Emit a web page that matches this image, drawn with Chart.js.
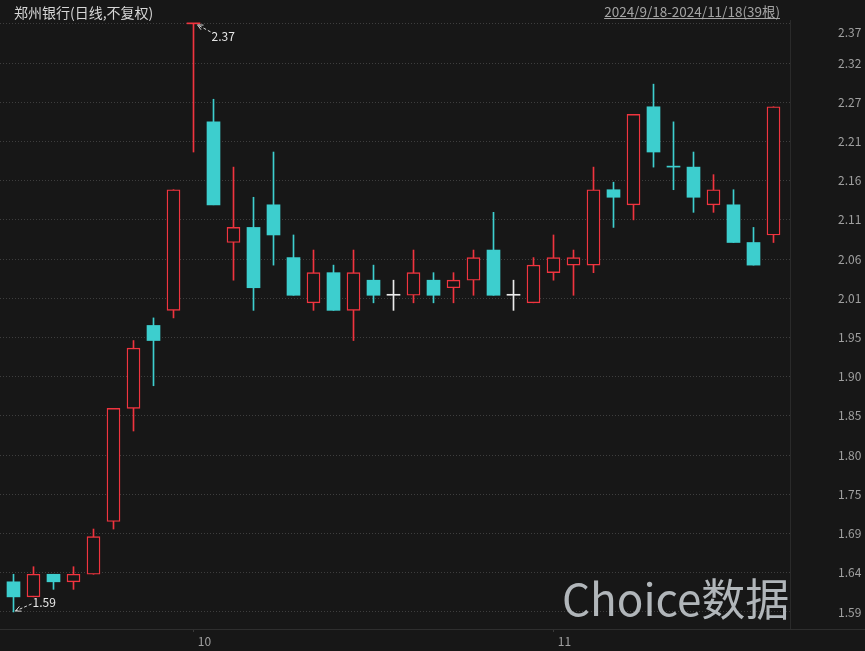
<!DOCTYPE html>
<html>
<head>
<meta charset="utf-8">
<script src="https://cdn.jsdelivr.net/npm/chart.js@4.4.0/dist/chart.umd.min.js"></script>
<style>
  html, body { margin: 0; padding: 0; background: #171717; }
  #wrap { width: 865px; height: 651px; }
</style>
</head>
<body>
<div id="wrap"><canvas id="kline" width="865" height="651"></canvas></div>
<script>
// 郑州银行 daily candles, 2024/9/18 - 2024/11/18
const dates = ['2024/9/18','2024/9/19','2024/9/20','2024/9/23','2024/9/24','2024/9/25','2024/9/26','2024/9/27','2024/9/30',
  '2024/10/8','2024/10/9','2024/10/10','2024/10/11','2024/10/14','2024/10/15','2024/10/16','2024/10/17','2024/10/18',
  '2024/10/21','2024/10/22','2024/10/23','2024/10/24','2024/10/25','2024/10/28','2024/10/29','2024/10/30','2024/10/31',
  '2024/11/1','2024/11/4','2024/11/5','2024/11/6','2024/11/7','2024/11/8','2024/11/11','2024/11/12','2024/11/13',
  '2024/11/14','2024/11/15','2024/11/18'];
const opens  = [1.63,1.61,1.64,1.63,1.64,1.71,1.86,1.97,1.99, 2.37,2.24,2.08,2.10,2.13,2.06,2.00,2.04,1.99, 2.03,2.01,2.01,2.03,2.02,2.03,2.07,2.01,2.00, 2.04,2.05,2.05,2.15,2.13,2.26,2.18,2.18,2.13, 2.13,2.08,2.09];
const highs  = [1.64,1.65,1.64,1.65,1.70,1.86,1.95,1.98,2.15, 2.37,2.27,2.18,2.14,2.20,2.09,2.07,2.05,2.07, 2.05,2.03,2.07,2.04,2.04,2.07,2.12,2.03,2.06, 2.09,2.07,2.18,2.16,2.25,2.29,2.24,2.20,2.17, 2.15,2.10,2.26];
const lows   = [1.59,1.61,1.62,1.62,1.64,1.70,1.83,1.89,1.98, 2.20,2.13,2.03,1.99,2.05,2.01,1.99,1.99,1.95, 2.00,1.99,2.00,2.00,2.00,2.01,2.01,1.99,2.00, 2.03,2.01,2.04,2.10,2.11,2.18,2.15,2.12,2.12, 2.08,2.05,2.08];
const closes = [1.61,1.64,1.63,1.64,1.69,1.86,1.94,1.95,2.15, 2.37,2.13,2.10,2.02,2.09,2.01,2.04,1.99,2.04, 2.01,2.01,2.04,2.01,2.03,2.06,2.01,2.01,2.05, 2.06,2.06,2.15,2.14,2.25,2.20,2.18,2.14,2.15, 2.08,2.05,2.26];
const yTicks = [1.590,1.642,1.694,1.746,1.798,1.850,1.902,1.954,2.006,2.058,2.110,2.162,2.214,2.266,2.318,2.370];
const yTickLabels = ['1.59','1.64','1.69','1.75','1.80','1.85','1.90','1.95','2.01','2.06','2.11','2.16','2.21','2.27','2.32','2.37'];
const title = '郑州银行(日线,不复权)';
const rangeText = '2024/9/18-2024/11/18(39根)';
const watermark = 'Choice数据';

const BG = '#171717', UP = '#f0343f', DOWN = '#3dcece', FLAT = '#ececec';
const FONT = '"Noto Sans CJK SC", "Noto Sans", sans-serif';

function candleColor(i) {
  if (closes[i] > opens[i]) return UP;
  if (closes[i] < opens[i]) return DOWN;
  if (i === 0) return FLAT;
  if (closes[i] > closes[i - 1]) return UP;
  if (closes[i] < closes[i - 1]) return DOWN;
  return FLAT;
}
const colors = dates.map((d, i) => candleColor(i));
const hollow = dates.map((d, i) => closes[i] > opens[i]);

// first trading day of each new month gets an x label
const monthStarts = [];
dates.forEach((d, i) => {
  if (i > 0 && d.split('/')[1] !== dates[i - 1].split('/')[1]) monthStarts.push(i);
});

function arrow(ctx, tx, ty, fx, fy) {
  ctx.save();
  ctx.strokeStyle = '#d8d8d8';
  ctx.lineWidth = 1;
  ctx.setLineDash([3, 2]);
  ctx.beginPath(); ctx.moveTo(fx, fy); ctx.lineTo(tx, ty); ctx.stroke();
  ctx.setLineDash([]);
  const a = Math.atan2(fy - ty, fx - tx);
  ctx.beginPath();
  ctx.moveTo(tx + 6 * Math.cos(a + 0.45), ty + 6 * Math.sin(a + 0.45));
  ctx.lineTo(tx, ty);
  ctx.lineTo(tx + 6 * Math.cos(a - 0.45), ty + 6 * Math.sin(a - 0.45));
  ctx.stroke();
  ctx.restore();
}

const decor = {
  id: 'decor',
  beforeDraw(chart) {
    const ctx = chart.ctx;
    ctx.save();
    ctx.fillStyle = BG;
    ctx.fillRect(0, 0, chart.width, chart.height);
    ctx.restore();
  },
  afterDraw(chart) {
    const ctx = chart.ctx, xs = chart.scales.x, ys = chart.scales.y, area = chart.chartArea;
    ctx.save();
    // header texts
    ctx.textBaseline = 'middle';
    ctx.font = '14px ' + FONT;
    ctx.fillStyle = '#d6d6d6';
    ctx.textAlign = 'left';
    ctx.fillText(title, 14, 13);
    ctx.font = '13.5px ' + FONT;
    ctx.fillStyle = '#a4a4a4';
    ctx.textAlign = 'right';
    ctx.fillText(rangeText, 780, 12);
    const w = ctx.measureText(rangeText).width;
    ctx.fillRect(780 - w, 18, w, 1);
    // top price label sits a little below its grid line
    ctx.font = '12px ' + FONT;
    ctx.textAlign = 'left';
    ctx.fillStyle = '#a0a0a0';
    ctx.fillText(yTickLabels[yTickLabels.length - 1], area.right + 48, ys.getPixelForValue(yTicks[yTicks.length - 1]) + 9);
    // bottom axis line across the full width
    ctx.fillStyle = '#2e2e2e';
    ctx.fillRect(0, Math.round(area.bottom), chart.width, 1);
    // high / low markers
    let hi = 0, lo = 0;
    highs.forEach((v, i) => { if (v > highs[hi]) hi = i; });
    lows.forEach((v, i) => { if (v < lows[lo]) lo = i; });
    const hx = xs.getPixelForValue(hi), hy = ys.getPixelForValue(highs[hi]);
    arrow(ctx, hx + 4, hy + 1, hx + 17, hy + 8);
    const lx = xs.getPixelForValue(lo), ly = ys.getPixelForValue(lows[lo]);
    arrow(ctx, lx + 2, ly - 1, lx + 18, ly - 8);
    ctx.font = '12px ' + FONT;
    ctx.fillStyle = '#e6e6e6';
    ctx.textAlign = 'left';
    ctx.textBaseline = 'middle';
    ctx.fillText(highs[hi].toFixed(2), hx + 18, hy + 13);
    ctx.fillText(lows[lo].toFixed(2), lx + 19, ly - 10);
    // watermark
    ctx.font = '44px ' + FONT;
    ctx.fillStyle = 'rgba(205,210,215,0.85)';
    ctx.textBaseline = 'alphabetic';
    ctx.fillText(watermark, 562, 616);
    ctx.restore();
  }
};

new Chart(document.getElementById('kline'), {
  type: 'bar',
  data: {
    datasets: [
      {
        label: 'body',
        data: dates.map((d, i) => ({ x: i, y: [opens[i], closes[i]] })),
        backgroundColor: colors.map((c, i) => hollow[i] ? BG : c),
        borderColor: colors,
        borderWidth: hollow.map(h => h ? 1.4 : 0),
        borderSkipped: false,
        barThickness: 13,
        minBarLength: 1,
        grouped: false
      },
      {
        label: 'wick',
        data: dates.map((d, i) => ({ x: i, y: [lows[i], highs[i]] })),
        backgroundColor: colors,
        borderWidth: 0,
        barThickness: 1,
        grouped: false
      }
    ]
  },
  options: {
    responsive: false,
    animation: false,
    layout: { padding: { top: 20, left: 0, right: 0, bottom: 0 } },
    plugins: { legend: { display: false }, tooltip: { enabled: false } },
    scales: {
      x: {
        type: 'linear',
        offset: false,
        min: -0.675,
        max: 38.825,
        afterBuildTicks: s => { s.ticks = monthStarts.map(v => ({ value: v })); },
        afterFit: s => { s.height = 22; },
        ticks: {
          autoSkip: false,
          maxRotation: 0,
          padding: 2,
          labelOffset: 11,
          color: '#a0a0a0',
          font: { size: 12, family: FONT },
          callback: v => String(parseInt(dates[v].split('/')[1], 10))
        },
        grid: { display: true, offset: false, drawOnChartArea: false, drawTicks: true, tickLength: 3, color: '#3a3a3a' },
        border: { display: false }
      },
      y: {
        position: 'right',
        min: 1.5674,
        max: 2.3751,
        afterBuildTicks: s => { s.ticks = yTicks.map(v => ({ value: v })); },
        afterFit: s => { s.width = 75; },
        ticks: {
          autoSkip: false,
          padding: 2,
          color: '#a0a0a0',
          font: { size: 12, family: FONT },
          callback: (v, idx) => idx === yTickLabels.length - 1 ? '' : yTickLabels[idx]
        },
        grid: { color: '#3e3e3e', drawTicks: true, tickLength: 46, tickColor: 'rgba(0,0,0,0)' },
        border: { display: true, color: '#2a2a2a', dash: [1, 2] }
      }
    }
  },
  plugins: [decor]
});
</script>
</body>
</html>
